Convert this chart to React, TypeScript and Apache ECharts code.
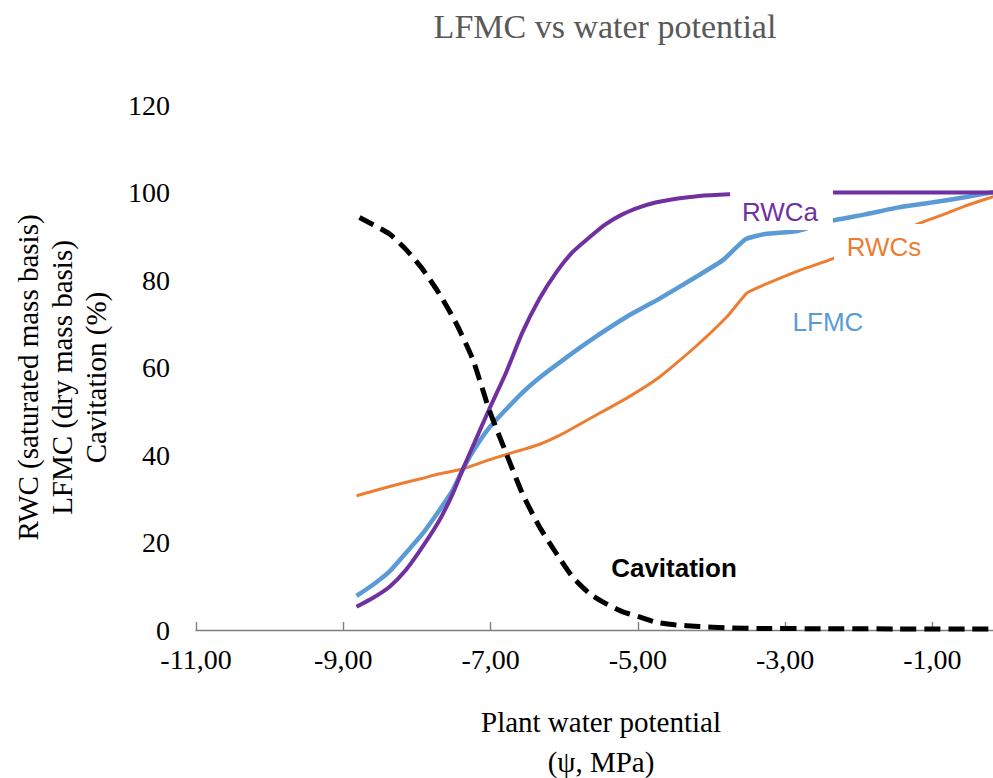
import React, { useEffect, useRef } from "react";
import * as echarts from "echarts";

// Plant water potential (MPa) and values
const psiRWCa = [-8.82, -8.6, -8.37, -8.15, -7.92, -7.69, -7.51, -7.38, -7.24, -7.02, -6.79, -6.57, -6.34, -6.11, -5.89, -5.66, -5.44, -5.21, -4.98, -4.76, -4.58, -4.17, -3.76, -3.2, -2.37, 0];
const valRWCa = [5.3, 7.3, 9.9, 13.7, 19.1, 25.2, 31.3, 36.6, 42.0, 50.4, 58.8, 67.9, 75.6, 81.7, 86.3, 89.7, 92.7, 95.0, 96.6, 97.7, 98.3, 99.2, 99.6, 99.9, 100, 100];

const psiLFMC = [-8.82, -8.6, -8.37, -8.15, -7.92, -7.69, -7.51, -7.38, -7.24, -7.02, -6.79, -6.57, -6.34, -6.05, -5.6, -5.15, -4.7, -4.24, -3.84, -3.54, -3.27, -2.83, -2.37, -1.91, -1.46, -1.01, -0.56, -0.2, 0];
const valLFMC = [7.8, 10.3, 13.4, 17.6, 22.1, 27.5, 32.1, 36.6, 40.8, 46.2, 50.4, 54.2, 57.6, 61.3, 66.7, 71.6, 75.8, 80.4, 84.6, 89.3, 90.5, 91.2, 93.5, 95.0, 96.6, 97.7, 98.9, 100, 100.5];

const psiRWCs = [-8.82, -8.37, -7.92, -7.69, -7.38, -7.02, -6.79, -6.57, -6.34, -6.05, -5.6, -5.15, -4.7, -4.24, -3.79, -3.52, -3.34, -2.82, -2.35, -1.15, -0.78, -0.56, -0.2, 0];
const valRWCs = [30.7, 32.8, 34.7, 35.7, 36.8, 38.9, 40.1, 41.2, 42.4, 44.6, 48.8, 53.0, 57.9, 64.4, 71.6, 77.0, 78.5, 82.1, 84.9, 93.1, 95.4, 96.9, 98.9, 100];

const psiCav = [-8.78, -8.6, -8.37, -8.15, -7.92, -7.69, -7.47, -7.24, -7.02, -6.79, -6.57, -6.34, -6.11, -5.89, -5.66, -5.44, -5.21, -4.98, -4.76, -4.5, -4.17, -3.8, -3.3, -2.5, -1.5, -0.5, 0];
const valCav = [94.3, 92.7, 90.5, 87.0, 82.4, 76.7, 70.2, 61.8, 50.4, 40.5, 31.3, 23.7, 17.6, 12.2, 8.4, 6.1, 4.2, 3.0, 1.8, 1.2, 0.8, 0.5, 0.35, 0.3, 0.25, 0.25, 0.25];

const titleText = "LFMC vs water potential";
const yAxisName = ["RWC (saturated mass basis)", "LFMC (dry mass basis)", "Cavitation (%)"];
const xAxisName = ["Plant water potential", "(ψ, MPa)"];

const pairs = (xs: number[], ys: number[]) => xs.map((x, i) => [x, ys[i]]);

const SERIF = "'Liberation Serif', 'Times New Roman', serif";
const SANS = "'Liberation Sans', Arial, sans-serif";

export default function App() {
  const ref = useRef<HTMLDivElement>(null);
  useEffect(() => {
    if (!ref.current) return;
    const chart = echarts.init(ref.current, undefined, { renderer: "svg" });
    const axisColor = "#7f7f7f";
    chart.setOption({
      animation: false,
      backgroundColor: "#ffffff",
      title: {
        text: titleText,
        left: 600,
        top: 4,
        textAlign: "center",
        textStyle: { fontFamily: SERIF, fontSize: 34, fontWeight: "normal", color: "#595959" },
      },
      grid: { left: 196, top: 105, width: 810, height: 525, outerBoundsMode: "none", containLabel: false },
      xAxis: {
        type: "value",
        min: -11,
        max: 0,
        interval: 2,
        name: xAxisName.join("\n"),
        nameLocation: "middle",
        nameGap: 72,
        nameTextStyle: { fontFamily: SERIF, fontSize: 29, color: "#000", lineHeight: 40 },
        axisLine: { show: true, lineStyle: { color: axisColor, width: 1.4 } },
        axisTick: { show: true, inside: true, length: 8, lineStyle: { color: axisColor, width: 1.4 } },
        axisLabel: {
          showMaxLabel: false,
          margin: 17,
          lineHeight: 24,
          fontFamily: SERIF,
          fontSize: 28,
          color: "#000",
          formatter: (v: number) => v.toFixed(2).replace(".", ","),
        },
        splitLine: { show: false },
      },
      yAxis: {
        type: "value",
        min: 0,
        max: 120,
        interval: 20,
        name: yAxisName.join("\n"),
        nameLocation: "middle",
        nameRotate: 90,
        nameGap: 83,
        nameTextStyle: { fontFamily: SERIF, fontSize: 29, color: "#000", lineHeight: 34, padding: [0, 20, 0, 0] },
        axisLine: { show: true, lineStyle: { color: axisColor, width: 1.4 } },
        axisTick: { show: true, inside: true, length: 8, lineStyle: { color: axisColor, width: 1.4 } },
        axisLabel: { margin: 26, lineHeight: 22, fontFamily: SERIF, fontSize: 28, color: "#000" },
        splitLine: { show: false },
      },
      series: [
        {
          name: "RWCs",
          type: "line",
          data: pairs(psiRWCs, valRWCs),
          symbol: "none",
          smooth: 0.15,
          lineStyle: { color: "#ED7D31", width: 3 },
          z: 2,
        },
        {
          name: "LFMC",
          type: "line",
          data: pairs(psiLFMC, valLFMC),
          symbol: "none",
          smooth: 0.15,
          lineStyle: { color: "#5B9BD5", width: 4.5 },
          z: 3,
        },
        {
          name: "RWCa",
          type: "line",
          data: pairs(psiRWCa, valRWCa),
          symbol: "none",
          smooth: 0.2,
          lineStyle: { color: "#7030A0", width: 4 },
          z: 4,
        },
        {
          name: "Cavitation",
          type: "line",
          data: pairs(psiCav, valCav),
          symbol: "none",
          smooth: 0.2,
          lineStyle: { color: "#000000", width: 5, type: [16, 8], cap: "butt" },
          z: 5,
        },
      ],
      graphic: [
        { type: "rect", z: 100, shape: { x: 730, y: 186, width: 103, height: 44 }, style: { fill: "#ffffff" } },
        {
          type: "text", z: 101, x: 780, y: 212,
          style: { text: "RWCa", fill: "#7030A0", fontFamily: SANS, fontSize: 26, align: "center", verticalAlign: "middle" },
        },
        { type: "rect", z: 100, shape: { x: 834, y: 224, width: 89, height: 44 }, style: { fill: "#ffffff" } },
        {
          type: "text", z: 101, x: 884, y: 247,
          style: { text: "RWCs", fill: "#ED7D31", fontFamily: SANS, fontSize: 26, align: "center", verticalAlign: "middle" },
        },
        {
          type: "text", z: 101, x: 828, y: 322,
          style: { text: "LFMC", fill: "#5B9BD5", fontFamily: SANS, fontSize: 26, align: "center", verticalAlign: "middle" },
        },
        {
          type: "text", z: 101, x: 674, y: 568,
          style: { text: "Cavitation", fill: "#000000", fontFamily: SANS, fontSize: 26, fontWeight: "bold", align: "center", verticalAlign: "middle" },
        },
      ],
    });
    return () => chart.dispose();
  }, []);
  return (
    <div
      ref={ref}
      style={{ position: "absolute", left: 0, top: 0, width: 993, height: 778, overflow: "hidden", background: "#fff" }}
    />
  );
}
